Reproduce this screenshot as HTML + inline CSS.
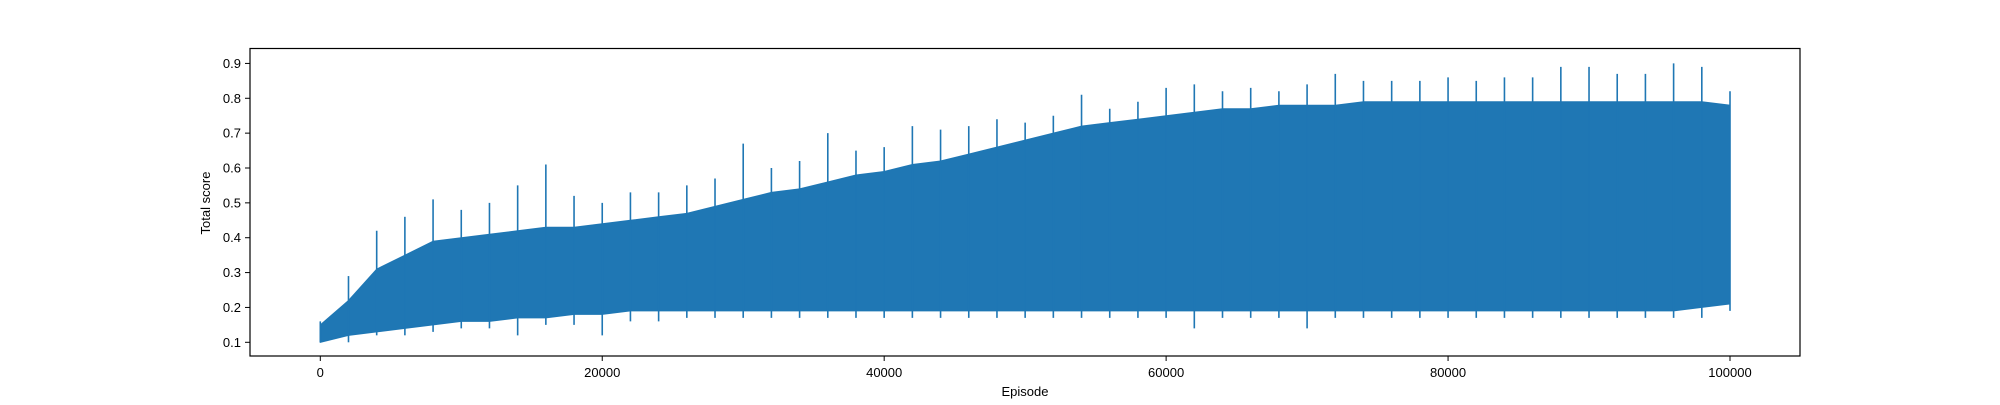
<!DOCTYPE html>
<html><head><meta charset="utf-8"><style>
html,body{margin:0;padding:0;background:#fff;}
svg text{font-family:"Liberation Sans","DejaVu Sans",sans-serif;font-size:13px;fill:#000;}
</style></head><body>
<svg id="chart" width="2000" height="400" xmlns="http://www.w3.org/2000/svg">
<g id="marks"></g>
<rect x="250" y="48.5" width="1550" height="307.5" fill="none" stroke="#000" stroke-width="1.2"/>
<g id="axes"></g>
<text transform="translate(210,203) rotate(-90)" text-anchor="middle">Total score</text>
<text x="1025" y="396" text-anchor="middle">Episode</text>
</svg>
<script>
const episodes = [0,2000,4000,6000,8000,10000,12000,14000,16000,18000,20000,22000,24000,26000,28000,30000,32000,34000,36000,38000,40000,42000,44000,46000,48000,50000,52000,54000,56000,58000,60000,62000,64000,66000,68000,70000,72000,74000,76000,78000,80000,82000,84000,86000,88000,90000,92000,94000,96000,98000,100000];
const upper = [0.15,0.22,0.31,0.35,0.39,0.40,0.41,0.42,0.43,0.43,0.44,0.45,0.46,0.47,0.49,0.51,0.53,0.54,0.56,0.58,0.59,0.61,0.62,0.64,0.66,0.68,0.70,0.72,0.73,0.74,0.75,0.76,0.77,0.77,0.78,0.78,0.78,0.79,0.79,0.79,0.79,0.79,0.79,0.79,0.79,0.79,0.79,0.79,0.79,0.79,0.78];
const peak = [0.16,0.29,0.42,0.46,0.51,0.48,0.50,0.55,0.61,0.52,0.50,0.53,0.53,0.55,0.57,0.67,0.60,0.62,0.70,0.65,0.66,0.72,0.71,0.72,0.74,0.73,0.75,0.81,0.77,0.79,0.83,0.84,0.82,0.83,0.82,0.84,0.87,0.85,0.85,0.85,0.86,0.85,0.86,0.86,0.89,0.89,0.87,0.87,0.90,0.89,0.82];
const lower = [0.10,0.12,0.13,0.14,0.15,0.16,0.16,0.17,0.17,0.18,0.18,0.19,0.19,0.19,0.19,0.19,0.19,0.19,0.19,0.19,0.19,0.19,0.19,0.19,0.19,0.19,0.19,0.19,0.19,0.19,0.19,0.19,0.19,0.19,0.19,0.19,0.19,0.19,0.19,0.19,0.19,0.19,0.19,0.19,0.19,0.19,0.19,0.19,0.19,0.20,0.21];
const trough = [0.10,0.10,0.12,0.12,0.13,0.14,0.14,0.12,0.15,0.15,0.12,0.16,0.16,0.17,0.17,0.17,0.17,0.17,0.17,0.17,0.17,0.17,0.17,0.17,0.17,0.17,0.17,0.17,0.17,0.17,0.17,0.14,0.17,0.17,0.17,0.14,0.17,0.17,0.17,0.17,0.17,0.17,0.17,0.17,0.17,0.17,0.17,0.17,0.17,0.17,0.19];
const xTicks = [0,20000,40000,60000,80000,100000];
const yTicks = [0.1,0.2,0.3,0.4,0.5,0.6,0.7,0.8,0.9];

const NS = "http://www.w3.org/2000/svg";
const xs = v => 320.3 + v * (1730 - 320.3) / 100000;
const ys = v => 342.3 - (v - 0.1) * 348.6;
const C = "#1f77b4";
const marks = document.getElementById('marks');
const axes = document.getElementById('axes');

let pts = [];
for (let i = 0; i < episodes.length; i++) pts.push(xs(episodes[i]) + ',' + ys(upper[i]));
for (let i = episodes.length - 1; i >= 0; i--) pts.push(xs(episodes[i]) + ',' + ys(lower[i]));
const band = document.createElementNS(NS, 'polygon');
band.setAttribute('points', pts.join(' '));
band.setAttribute('fill', C);
band.setAttribute('stroke', C);


marks.appendChild(band);

for (let i = 0; i < episodes.length; i++) {
  const l = document.createElementNS(NS, 'line');
  const x = xs(episodes[i]);
  l.setAttribute('x1', x); l.setAttribute('x2', x);
  l.setAttribute('y1', ys(trough[i])); l.setAttribute('y2', ys(peak[i]));
  l.setAttribute('stroke', C); l.setAttribute('stroke-width', '1.6');
  
  
  marks.appendChild(l);
}

xTicks.forEach(t => {
  const x = xs(t);
  const tk = document.createElementNS(NS, 'line');
  tk.setAttribute('x1', x); tk.setAttribute('x2', x); tk.setAttribute('y1', 356); tk.setAttribute('y2', 361);
  tk.setAttribute('stroke', '#000');
  
  
  axes.appendChild(tk);
  const tx = document.createElementNS(NS, 'text');
  tx.setAttribute('x', x); tx.setAttribute('y', 377); tx.setAttribute('text-anchor', 'middle');
  tx.textContent = String(t);
  
  
  axes.appendChild(tx);
});
yTicks.forEach(t => {
  const y = ys(t);
  const tk = document.createElementNS(NS, 'line');
  tk.setAttribute('x1', 245); tk.setAttribute('x2', 250); tk.setAttribute('y1', y); tk.setAttribute('y2', y);
  tk.setAttribute('stroke', '#000');
  
  
  axes.appendChild(tk);
  const tx = document.createElementNS(NS, 'text');
  tx.setAttribute('x', 241); tx.setAttribute('y', y + 4.5); tx.setAttribute('text-anchor', 'end');
  tx.textContent = t.toFixed(1);
  
  
  axes.appendChild(tx);
});
</script>
</body></html>
